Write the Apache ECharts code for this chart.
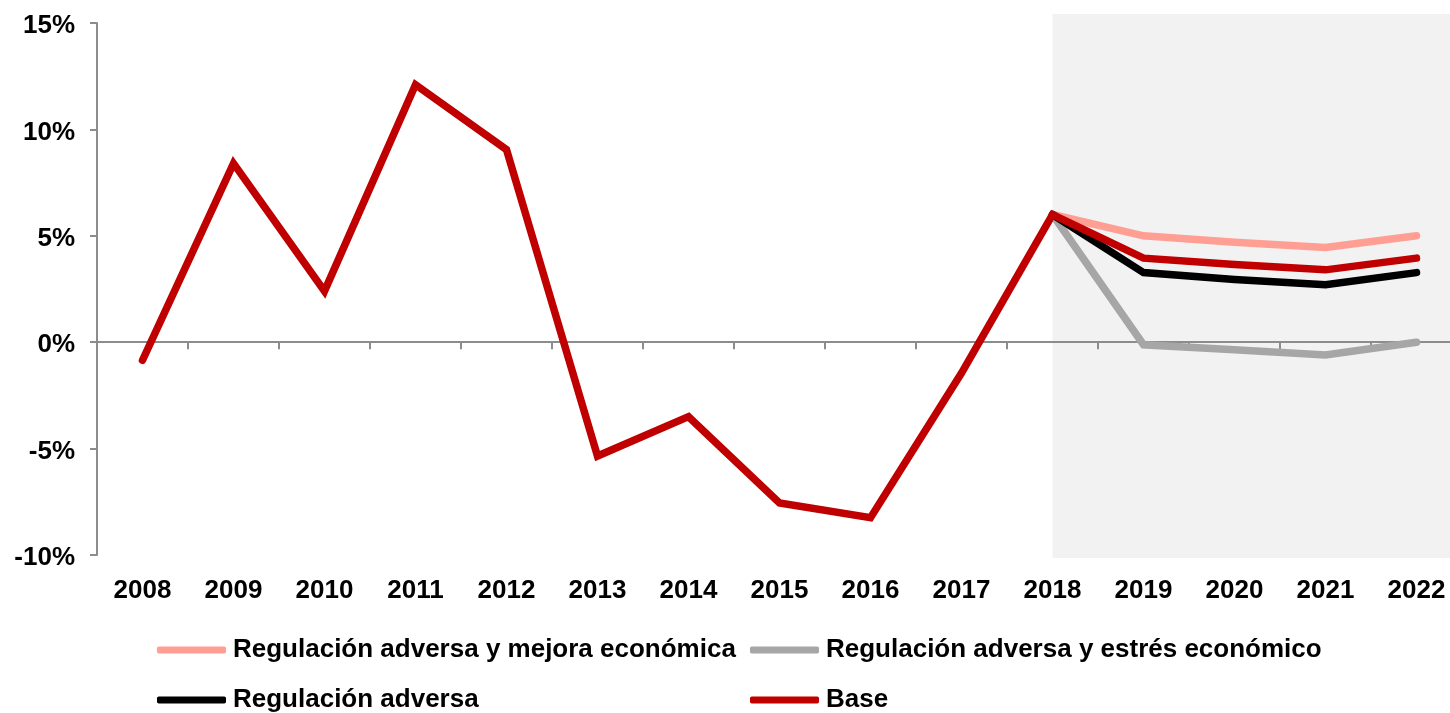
<!DOCTYPE html>
<html>
<head>
<meta charset="utf-8">
<script src="https://cdn.jsdelivr.net/npm/echarts@6/dist/echarts.min.js"></script>
<style>
html,body{margin:0;padding:0;background:#fff;}
#main{width:1450px;height:713px;}
</style>
</head>
<body>
<div id="main"></div>
<script>
var years = ['2008','2009','2010','2011','2012','2013','2014','2015','2016','2017','2018','2019','2020','2021','2022'];
var yTicks = [-10, -5, 0, 5, 10, 15];
var base    = [-0.85, 8.4, 2.4, 12.1, 9.05, -5.35, -3.5, -7.55, -8.25, -1.45, 6.0, 3.95, 3.65, 3.4, 3.95];
var mejora  = [null, null, null, null, null, null, null, null, null, null, 6.0, 5.0, 4.7, 4.45, 5.0];
var estres  = [null, null, null, null, null, null, null, null, null, null, 6.0, -0.12, -0.35, -0.6, 0.0];
var adversa = [null, null, null, null, null, null, null, null, null, null, 6.0, 3.27, 2.95, 2.7, 3.27];
var names = ['Regulación adversa y mejora económica', 'Regulación adversa y estrés económico', 'Regulación adversa', 'Base'];
var colors = ['#FF9F94', '#A6A6A6', '#000000', '#C00000'];
var shadeFrom = '2018';

var FONT = "'Liberation Sans', Arial, sans-serif";
var chart = echarts.init(document.getElementById('main'), null, {renderer: 'canvas'});

function lineSeries(name, data, color) {
  return {
    name: name, type: 'line', data: data, symbol: 'none', showSymbol: false,
    connectNulls: false,
    lineStyle: {color: color, width: 7.5, cap: 'round', join: 'miter'},
    itemStyle: {color: color},
    emphasis: {disabled: true}
  };
}
var legendText = {fontFamily: FONT, fontWeight: 'bold', fontSize: 26, color: '#000', padding: [0, 0, 0, 2]};
function legendAt(name, left, top) {
  return {data: [name], orient: 'horizontal', left: left, top: top, padding: 0,
    itemWidth: 69, itemHeight: 7, icon: 'roundRect', textStyle: legendText, selectedMode: false};
}

var option = {
  animation: false,
  backgroundColor: '#fff',
  grid: {left: 97, top: 23, width: 1365, height: 532, containLabel: false, outerBoundsMode: 'none'},
  legend: [
    legendAt(names[0], 157, 637),
    legendAt(names[1], 750, 637),
    legendAt(names[2], 157, 687),
    legendAt(names[3], 750, 687)
  ],
  xAxis: [
    {type: 'category', data: years, position: 'bottom', boundaryGap: true,
     axisLine: {show: false, onZero: false}, axisTick: {show: false},
     axisLabel: {fontFamily: FONT, fontWeight: 'bold', fontSize: 26, color: '#000', margin: 23, interval: 0},
     splitLine: {show: false}},
    {type: 'category', data: years, position: 'bottom', boundaryGap: true,
     axisLine: {show: true, onZero: true, lineStyle: {color: '#8C8C8C', width: 2}},
     axisTick: {show: true, length: 7, interval: 0, lineStyle: {color: '#8C8C8C', width: 2}},
     axisLabel: {show: false}, splitLine: {show: false}}
  ],
  yAxis: {
    type: 'value', min: yTicks[0], max: yTicks[yTicks.length - 1], interval: 5,
    axisLine: {show: true, lineStyle: {color: '#8C8C8C', width: 2}},
    axisTick: {show: true, length: 7, lineStyle: {color: '#8C8C8C', width: 2}},
    axisLabel: {margin: 22, formatter: '{a|{value}%}',
      rich: {a: {fontFamily: FONT, fontWeight: 'bold', fontSize: 26, color: '#000', padding: [6, 0, 0, 0]}}},
    splitLine: {show: false}
  },
  series: [
    lineSeries(names[0], mejora, colors[0]),
    lineSeries(names[1], estres, colors[1]),
    lineSeries(names[2], adversa, colors[2]),
    lineSeries(names[3], base, colors[3])
  ]
};
chart.setOption(option);

var x0 = chart.convertToPixel({xAxisIndex: 0}, shadeFrom);
var yTop = chart.convertToPixel({yAxisIndex: 0}, yTicks[yTicks.length - 1]);
var yBot = chart.convertToPixel({yAxisIndex: 0}, yTicks[0]);
chart.setOption({
  graphic: [{
    type: 'rect', z: -10, silent: true,
    shape: {x: x0, y: yTop - 9, width: 1450 - x0, height: (yBot + 3) - (yTop - 9)},
    style: {fill: '#F2F2F2'}
  }]
});
</script>
</body>
</html>
